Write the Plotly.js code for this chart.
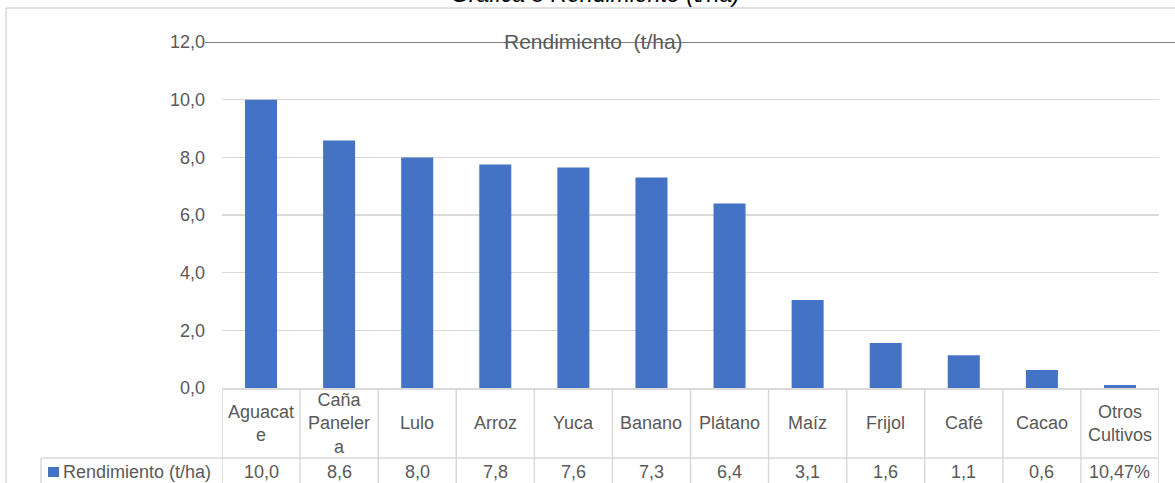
<!DOCTYPE html>
<html>
<head>
<meta charset="utf-8">
<script src="https://cdn.plot.ly/plotly-3.0.1.min.js"></script>
<style>html,body{margin:0;padding:0;background:#fff;}#chart{width:1175px;height:483px;}</style>
</head>
<body>
<div id="chart"></div>
<script>
// ---- data ----
var categories = ["Aguacate", "Caña Panelera", "Lulo", "Arroz", "Yuca", "Banano", "Plátano", "Maíz", "Frijol", "Café", "Cacao", "Otros Cultivos"];
var tableLabels = ["Aguacat<br>e", "Caña<br>Paneler<br>a", "Lulo", "Arroz", "Yuca", "Banano", "Plátano", "Maíz", "Frijol", "Café", "Cacao", "Otros<br>Cultivos"];
var values = [10.0, 8.58, 7.99, 7.75, 7.65, 7.30, 6.40, 3.05, 1.56, 1.14, 0.62, 0.1047];
var tableValues = ["10,0", "8,6", "8,0", "7,8", "7,6", "7,3", "6,4", "3,1", "1,6", "1,1", "0,6", "10,47%"];
var seriesName = "Rendimiento (t/ha)";
var chartTitle = "Rendimiento  (t/ha)";
var figureTitle = "Gráfica 8 Rendimiento (t/ha)";

// ---- layout helpers (pixel -> paper) ----
var W = 1175, H = 483, L = 222, R = 16, T = 42, B = 95;
var pw = W - L - R, ph = H - T - B;
function px(x) { return (x - L) / pw; }
function py(y) { return (H - B - y) / ph; }

var FONT = "Liberation Sans, Arial, sans-serif";
var GRAY = "#595959";
var LINE = "#d9d9d9";
var BLUE = "#4472C4";

var shapes = [];
var annotations = [];

// outer chart border
shapes.push({type: "line", xref: "paper", yref: "paper", x0: px(6), x1: px(1180), y0: py(8), y1: py(8), line: {color: LINE, width: 1.5}});
shapes.push({type: "line", xref: "paper", yref: "paper", x0: px(6), x1: px(6), y0: py(8), y1: py(490), line: {color: LINE, width: 1.5}});

// dark line at top value
shapes.push({type: "line", xref: "paper", yref: "y", x0: px(205), x1: px(1180), y0: 12, y1: 12, line: {color: GRAY, width: 1.6}});

// data table grid
for (var k = 0; k <= categories.length; k++) {
  shapes.push({type: "line", xref: "x", yref: "paper", x0: k - 0.5, x1: k - 0.5, y0: 0, y1: py(490), line: {color: LINE, width: 1.5}});
}
shapes.push({type: "line", xref: "paper", yref: "paper", x0: px(41), x1: 1, y0: py(458), y1: py(458), line: {color: LINE, width: 1.5}});
shapes.push({type: "line", xref: "paper", yref: "paper", x0: px(41), x1: px(41), y0: py(458), y1: py(490), line: {color: LINE, width: 1.5}});
// legend key
shapes.push({type: "rect", xref: "paper", yref: "paper", x0: px(48), x1: px(59), y0: py(467), y1: py(477), fillcolor: BLUE, line: {width: 0}});

// table text
categories.forEach(function (c, i) {
  annotations.push({xref: "x", yref: "paper", x: c, y: py(423), text: tableLabels[i], showarrow: false, xanchor: "center", yanchor: "middle", font: {family: FONT, size: 18, color: GRAY}});
  annotations.push({xref: "x", yref: "paper", x: c, y: py(472), text: tableValues[i], showarrow: false, xanchor: "center", yanchor: "middle", font: {family: FONT, size: 18, color: GRAY}});
});
annotations.push({xref: "paper", yref: "paper", x: px(61), y: py(472), text: seriesName, showarrow: false, xanchor: "left", yanchor: "middle", font: {family: FONT, size: 18, color: GRAY}});

// chart title (inside)
annotations.push({xref: "paper", yref: "paper", x: px(593), y: py(41), text: chartTitle, showarrow: false, xanchor: "center", yanchor: "middle", font: {family: FONT, size: 21, color: GRAY}});
// figure caption (cut off at top)
annotations.push({xref: "paper", yref: "paper", x: px(595), y: py(-6), text: "<i>" + figureTitle + "</i>", showarrow: false, xanchor: "center", yanchor: "middle", font: {family: FONT, size: 23, color: "#000000"}});

var trace = {
  type: "bar",
  x: categories,
  y: values,
  name: seriesName,
  marker: {color: BLUE},
  hoverinfo: "x+y"
};

var layout = {
  width: W, height: H,
  margin: {l: L, r: R, t: T, b: B, pad: 0},
  paper_bgcolor: "#ffffff",
  plot_bgcolor: "#ffffff",
  separators: ",.",
  showlegend: false,
  bargap: 0.59,
  font: {family: FONT, color: GRAY},
  xaxis: {
    type: "category",
    showticklabels: false,
    showgrid: false,
    zeroline: false,
    showline: true,
    linecolor: LINE,
    linewidth: 1.5,
    ticks: "",
    range: [-0.5, categories.length - 0.5]
  },
  yaxis: {
    range: [0, 12],
    dtick: 2,
    tick0: 0,
    tickformat: ".1f",
    showgrid: true,
    gridcolor: LINE,
    gridwidth: 1.5,
    zeroline: false,
    showline: false,
    ticks: "",
    ticklabelstandoff: 16,
    tickfont: {family: FONT, size: 18, color: GRAY}
  },
  shapes: shapes,
  annotations: annotations
};

Plotly.newPlot("chart", [trace], layout, {displayModeBar: false, staticPlot: true});
</script>
</body>
</html>
